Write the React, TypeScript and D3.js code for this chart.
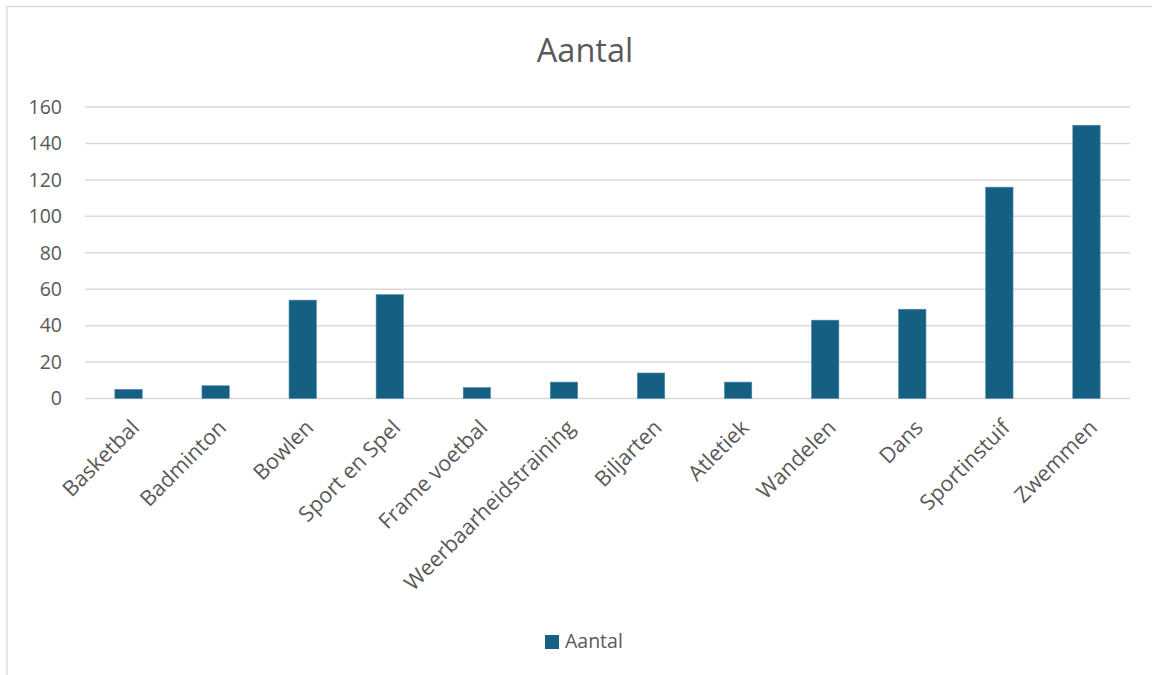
import React from 'react';
import * as d3 from 'd3';

// categories and values
const categories = [
    'Basketbal', 'Badminton', 'Bowlen', 'Sport en Spel', 'Frame voetbal',
    'Weerbaarheidstraining', 'Biljarten', 'Atletiek', 'Wandelen', 'Dans',
    'Sportinstuif', 'Zwemmen',
];
const aantal = [5, 7, 54, 57, 6, 9, 14, 9, 43, 49, 116, 150];
const yTicks = [0, 20, 40, 60, 80, 100, 120, 140, 160];
const seriesName = 'Aantal';

const W = 1152;
const H = 675;
const font = '"Open Sans", "Liberation Sans", sans-serif';
const textColor = '#595959';
const barColor = '#156082';

export default function App() {
    const dims = { left: 85, right: 1130, top: 107, bottom: 398.5 };

    const x = d3.scaleBand<string>()
        .domain(categories)
        .range([dims.left, dims.right])
        .paddingInner(0.686)
        .paddingOuter(0.343);
    const y = d3.scaleLinear().domain([0, 160]).range([dims.bottom, dims.top]);

    return (
        <svg width={W} height={H} style={{ position: 'absolute', left: 0, top: 0, display: 'block', background: '#fff' }}>
            {/* chart border */}
            <rect x={7} y={6.5} width={W + 10} height={H + 10} fill="#fff" stroke="#d9d9d9" strokeWidth={1.3} />

            <text x={585} y={62} textAnchor="middle" fontFamily={font} fontSize={32.5} fill={textColor}>{seriesName}</text>

            {/* gridlines + y labels */}
            {yTicks.map(t => (
                <g key={t}>
                    <line x1={dims.left} x2={dims.right} y1={y(t)} y2={y(t)} stroke="#d9d9d9" strokeWidth={1.5} />
                    <text x={62} y={y(t)} dy="0.35em" textAnchor="end" fontFamily={font} fontSize={19.5} fill={textColor}>{t}</text>
                </g>
            ))}

            {/* bars */}
            {categories.map((c, i) => (
                <rect key={c} x={x(c)} y={y(aantal[i])} width={x.bandwidth()} height={y(0) - y(aantal[i])}
                    fill={barColor} stroke="#4f8bab" strokeWidth={0.6} />
            ))}

            {/* category labels */}
            {categories.map(c => {
                const cx = (x(c) as number) + x.bandwidth() / 2;
                return (
                    <text key={c} transform={`translate(${cx + 12},${429}) rotate(-45)`} textAnchor="end"
                        fontFamily={font} fontSize={21.5} fill={textColor}>{c}</text>
                );
            })}

            {/* legend */}
            <rect x={545} y={635} width={14} height={14} fill={barColor} />
            <text x={565} y={648} fontFamily={font} fontSize={19.5} fill={textColor}>{seriesName}</text>
        </svg>
    );
}
